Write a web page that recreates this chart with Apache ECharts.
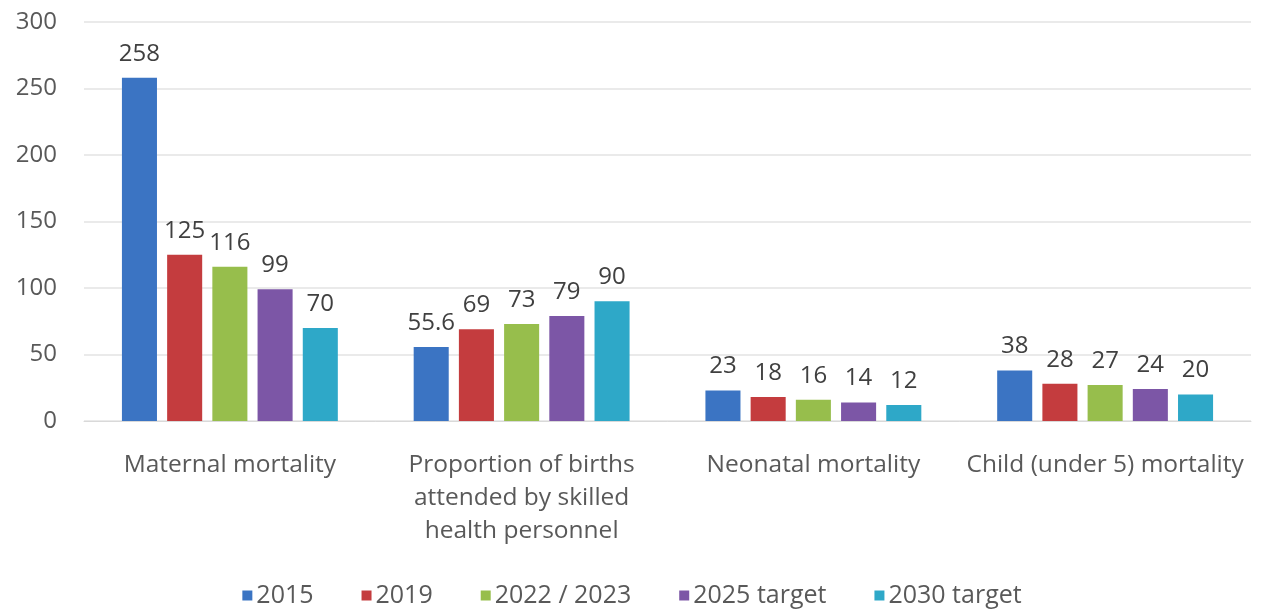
<!DOCTYPE html>
<html>
<head>
<meta charset="utf-8">
<script src="https://cdn.jsdelivr.net/npm/echarts@6/dist/echarts.min.js"></script>
<style>
  html, body { margin: 0; padding: 0; background: #ffffff; }
  #chart { width: 1264px; height: 611px; }
</style>
</head>
<body>
<div id="chart"></div>
<script>
// Health indicators by year and target
const categories = [
  'Maternal mortality',
  'Proportion of births\nattended by skilled\nhealth personnel',
  'Neonatal mortality',
  'Child (under 5) mortality'
];
const seriesNames = ['2015', '2019', '2022 / 2023', '2025 target', '2030 target'];
const values2015 = [258, 55.6, 23, 38];
const values2019 = [125, 69, 18, 28];
const values2022 = [116, 73, 16, 27];
const values2025 = [99, 79, 14, 24];
const values2030 = [70, 90, 12, 20];
const yTicks = { min: 0, max: 300, interval: 50 };

const seriesValues = [values2015, values2019, values2022, values2025, values2030];
const colors = ['#3B74C3', '#C43C3E', '#97BE4C', '#7C56A6', '#2EA8C8'];
const fontFamily = '"Open Sans", Lato, sans-serif';

const chart = echarts.init(document.getElementById('chart'));
chart.setOption({
  animation: false,
  color: colors,
  grid: { left: 84, right: 13, top: 22, bottom: 190 },
  legend: {
    top: 578,
    left: 'center',
    itemWidth: 10,
    itemHeight: 10,
    itemGap: 48,
    icon: 'rect',
    textStyle: { fontFamily, fontSize: 25, color: '#595959', padding: [0, 0, 0, -1] },
    data: seriesNames
  },
  xAxis: {
    type: 'category',
    data: categories,
    axisLine: { lineStyle: { color: '#D9D9D9' } },
    axisTick: { show: false },
    axisLabel: {
      fontFamily, fontSize: 24.5, color: '#595959', lineHeight: 33, margin: 28, interval: 0
    }
  },
  yAxis: {
    type: 'value',
    min: yTicks.min,
    max: yTicks.max,
    interval: yTicks.interval,
    axisLine: { show: false },
    axisTick: { show: false },
    splitLine: { lineStyle: { color: '#E3E3E3', width: 1.5 } },
    axisLabel: { fontFamily, fontSize: 24, color: '#595959', margin: 27 }
  },
  series: seriesNames.map((name, i) => ({
    name,
    type: 'bar',
    data: seriesValues[i],
    barGap: '29%',
    barCategoryGap: '26%',
    label: {
      show: true,
      position: 'top',
      distance: 12,
      fontFamily,
      fontSize: 24,
      color: '#404040'
    }
  }))
});
</script>
</body>
</html>
